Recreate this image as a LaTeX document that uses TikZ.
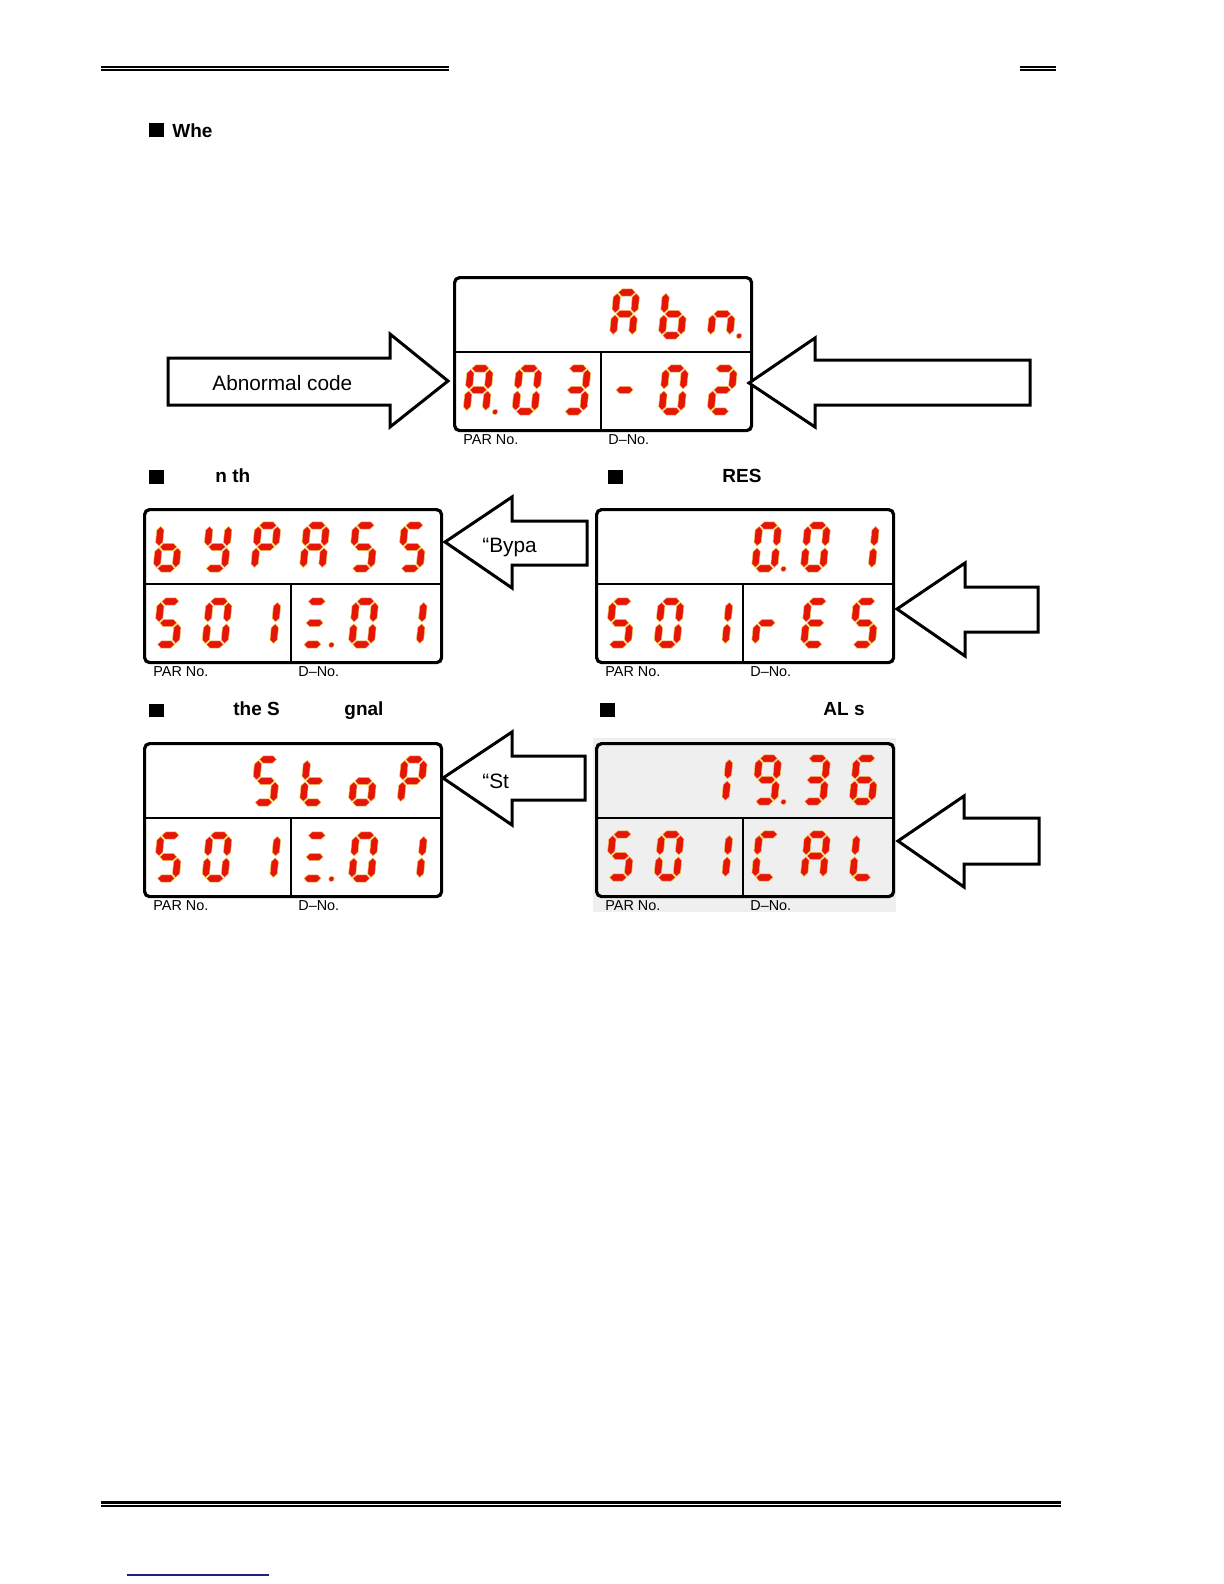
\documentclass[tikz,border=0pt]{standalone}
\usepackage{fontspec}
\setmainfont{Liberation Sans}
\definecolor{segred}{HTML}{E5150A}
\definecolor{segedge}{HTML}{F0C850}
\definecolor{panelgray}{HTML}{EFEFEF}
\definecolor{linkblue}{HTML}{1A237E}
\tikzset{
  seg/.style={fill=segred, draw=segedge, line width=0.25pt, line join=miter},
  dispbox/.style={draw=black, line width=1.6pt, rounded corners=2.5pt, inner sep=0pt,
    minimum width=148.5pt, minimum height=76.5pt, anchor=north west},
  divider/.style={draw=black, line width=1.1pt},
  blockarrow/.style={draw=black, line width=1.5pt, fill=white, line join=miter},
  lbl/.style={inner sep=0pt, anchor=base west, font=\fontsize{7.2}{8}\selectfont},
  headtxt/.style={inner sep=0pt, anchor=base west, font=\fontsize{9.5}{11}\selectfont\bfseries},
  arrtxt/.style={inner sep=0pt, anchor=base west, font=\fontsize{10.4}{12}\selectfont},
}
% seven segment geometry (local units, v up)
\newcommand\SGa{\path[seg] (1,43)--(4.6,46.6)--(14.4,46.6)--(18,43)--(14.4,39.4)--(4.6,39.4)--cycle;}
\newcommand\SGg{\path[seg] (1,21.5)--(4.6,25.1)--(14.4,25.1)--(18,21.5)--(14.4,17.9)--(4.6,17.9)--cycle;}
\newcommand\SGd{\path[seg] (1,0)--(4.6,3.6)--(14.4,3.6)--(18,0)--(14.4,-3.6)--(4.6,-3.6)--cycle;}
\newcommand\SGf{\path[seg] (0,22.5)--(3.6,26.1)--(3.6,38.4)--(0,42)--(-3.6,38.4)--(-3.6,26.1)--cycle;}
\newcommand\SGb{\path[seg] (19,22.5)--(22.6,26.1)--(22.6,38.4)--(19,42)--(15.4,38.4)--(15.4,26.1)--cycle;}
\newcommand\SGe{\path[seg] (0,1)--(3.6,4.6)--(3.6,16.9)--(0,20.5)--(-3.6,16.9)--(-3.6,4.6)--cycle;}
\newcommand\SGc{\path[seg] (19,1)--(22.6,4.6)--(22.6,16.9)--(19,20.5)--(15.4,16.9)--(15.4,4.6)--cycle;}
\newcommand\dig[4]{%
  \begin{scope}[shift={(#1+3.6,#2-3.6)}, x=0.5pt, y=0.5pt, xslant=0.1]
    \foreach \s in {#3}{\csname SG\s\endcsname}
    \ifnum#4=1 \path[seg] (28.5,-0.5) circle[radius=2.7];\fi
  \end{scope}}
% #1 box x, #2 cell index, #3 bottom y, #4 segments, #5 dp
\newcommand\D[5]{\dig{#1+10+48.8*#2}{#3}{#4}{#5}}
% display panel: #1 name, #2 x, #3 y
\newcommand\disp[3]{%
  \node[dispbox] (#1) at (#2,#3) {};
  \draw[divider] (#2,#3+76) -- (#2+297,#3+76);
  \draw[divider] (#2+148,#3+76) -- (#2+148,#3+153);
  \node[lbl] (#1par) at (#2+10,#3+168.5) {PAR No.};
  \node[lbl] (#1dno) at (#2+155,#3+168.5) {D–No.};}
\begin{document}
\begin{tikzpicture}[x=0.5pt, y=-0.5pt]
\fill[white] (0,0) rectangle (1224,1584);
\useasboundingbox (0,0) rectangle (1224,1584);

% header / footer rules
\draw[line width=1pt] (101,66.8) -- (449,66.8);
\draw[line width=0.6pt] (101,70) -- (449,70);
\draw[line width=1pt] (1020,66.8) -- (1056,66.8);
\draw[line width=0.6pt] (1020,70) -- (1056,70);
\draw[line width=1.1pt] (101,1502.5) -- (1061,1502.5);
\draw[line width=0.6pt] (101,1506) -- (1061,1506);
\draw[linkblue, line width=0.6pt] (127,1575) -- (269,1575);

% headings
\fill (149,123) rectangle (164,137);
\node[headtxt] (h1) at (172,137) {Whe};
\fill (149,470) rectangle (164,484);
\node[headtxt] (h2) at (215,482) {n th};
\fill (608,470) rectangle (623,484);
\node[headtxt] (h3) at (722,482) {RES};
\fill (149,704) rectangle (164,717);
\node[headtxt] (h4) at (233,715) {the S};
\node[headtxt] (h4b) at (344,715) {gnal};
\fill (600,703) rectangle (615,717);
\node[headtxt] (h5) at (823,715) {AL s};

% ---- display 1: Abn.
\disp{dA}{453}{276}
\D{453}{3}{339}{a,b,c,e,f,g}{0}
\D{453}{4}{339}{c,d,e,f,g}{0}
\D{453}{5}{339}{c,e,g}{1}
\D{453}{0}{415}{a,b,c,e,f,g}{1}
\D{453}{1}{415}{a,b,c,d,e,f}{0}
\D{453}{2}{415}{a,b,c,d,g}{0}
\D{453}{3}{415}{g}{0}
\D{453}{4}{415}{a,b,c,d,e,f}{0}
\D{453}{5}{415}{a,b,d,e,g}{0}
\draw[blockarrow] (168,358) -- (390,358) -- (390,334) -- (448,381) -- (390,427) -- (390,405) -- (168,405) -- cycle;
\node[arrtxt] (t1) at (212,390) {Abnormal code};
\draw[blockarrow] (749,383) -- (815,338) -- (815,360) -- (1030,360) -- (1030,405) -- (815,405) -- (815,427) -- cycle;

% ---- display 2: bYPASS
\disp{dB}{143}{508}
\D{143}{0}{572}{c,d,e,f,g}{0}
\D{143}{1}{572}{b,c,d,f,g}{0}
\D{143}{2}{572}{a,b,e,f,g}{0}
\D{143}{3}{572}{a,b,c,e,f,g}{0}
\D{143}{4}{572}{a,c,d,f,g}{0}
\D{143}{5}{572}{a,c,d,f,g}{0}
\D{143}{0}{648}{a,c,d,f,g}{0}
\D{143}{1}{648}{a,b,c,d,e,f}{0}
\D{143}{2}{648}{b,c}{0}
\D{143}{3}{648}{a,d,g}{1}
\D{143}{4}{648}{a,b,c,d,e,f}{0}
\D{143}{5}{648}{b,c}{0}
\draw[blockarrow] (445,542) -- (512,497) -- (512,521) -- (587,521) -- (587,565) -- (512,565) -- (512,588) -- cycle;
\node[arrtxt] (t2) at (482,552) {“Bypa};

% ---- display 3: 0.01 / rES
\disp{dC}{595}{508}
\D{595}{3}{572}{a,b,c,d,e,f}{1}
\D{595}{4}{572}{a,b,c,d,e,f}{0}
\D{595}{5}{572}{b,c}{0}
\D{595}{0}{648}{a,c,d,f,g}{0}
\D{595}{1}{648}{a,b,c,d,e,f}{0}
\D{595}{2}{648}{b,c}{0}
\D{595}{3}{648}{e,g}{0}
\D{595}{4}{648}{a,d,e,f,g}{0}
\D{595}{5}{648}{a,c,d,f,g}{0}
\draw[blockarrow] (897,609) -- (965,563) -- (965,587) -- (1038,587) -- (1038,632) -- (965,632) -- (965,656) -- cycle;

% ---- display 4: StoP
\disp{dD}{143}{742}
\D{143}{2}{806}{a,c,d,f,g}{0}
\D{143}{3}{806}{d,e,f,g}{0}
\D{143}{4}{806}{c,d,e,g}{0}
\D{143}{5}{806}{a,b,e,f,g}{0}
\D{143}{0}{882}{a,c,d,f,g}{0}
\D{143}{1}{882}{a,b,c,d,e,f}{0}
\D{143}{2}{882}{b,c}{0}
\D{143}{3}{882}{a,d,g}{1}
\D{143}{4}{882}{a,b,c,d,e,f}{0}
\D{143}{5}{882}{b,c}{0}
\draw[blockarrow] (443,778) -- (512,732) -- (512,756) -- (585,756) -- (585,800) -- (512,800) -- (512,825) -- cycle;
\node[arrtxt] (t3) at (482,788) {“St};

% ---- display 5: 19.36 / CAL
\fill[panelgray] (593,738) rectangle (896,912);
\node[dispbox, fill=panelgray] (dE) at (595,742) {};
\draw[divider] (595,818) -- (892,818);
\draw[divider] (743,818) -- (743,895);
\node[lbl] (dEpar) at (605,910.5) {PAR No.};
\node[lbl] (dEdno) at (750,910.5) {D–No.};
\D{595}{2}{805}{b,c}{0}
\D{595}{3}{805}{a,b,c,d,f,g}{1}
\D{595}{4}{805}{a,b,c,d,g}{0}
\D{595}{5}{805}{a,c,d,e,f,g}{0}
\D{595}{0}{881}{a,c,d,f,g}{0}
\D{595}{1}{881}{a,b,c,d,e,f}{0}
\D{595}{2}{881}{b,c}{0}
\D{595}{3}{881}{a,d,e,f}{0}
\D{595}{4}{881}{a,b,c,e,f,g}{0}
\D{595}{5}{881}{d,e,f}{0}
\draw[blockarrow] (898,841) -- (964,796) -- (964,818) -- (1039,818) -- (1039,864) -- (964,864) -- (964,887) -- cycle;
\end{tikzpicture}
\end{document}
